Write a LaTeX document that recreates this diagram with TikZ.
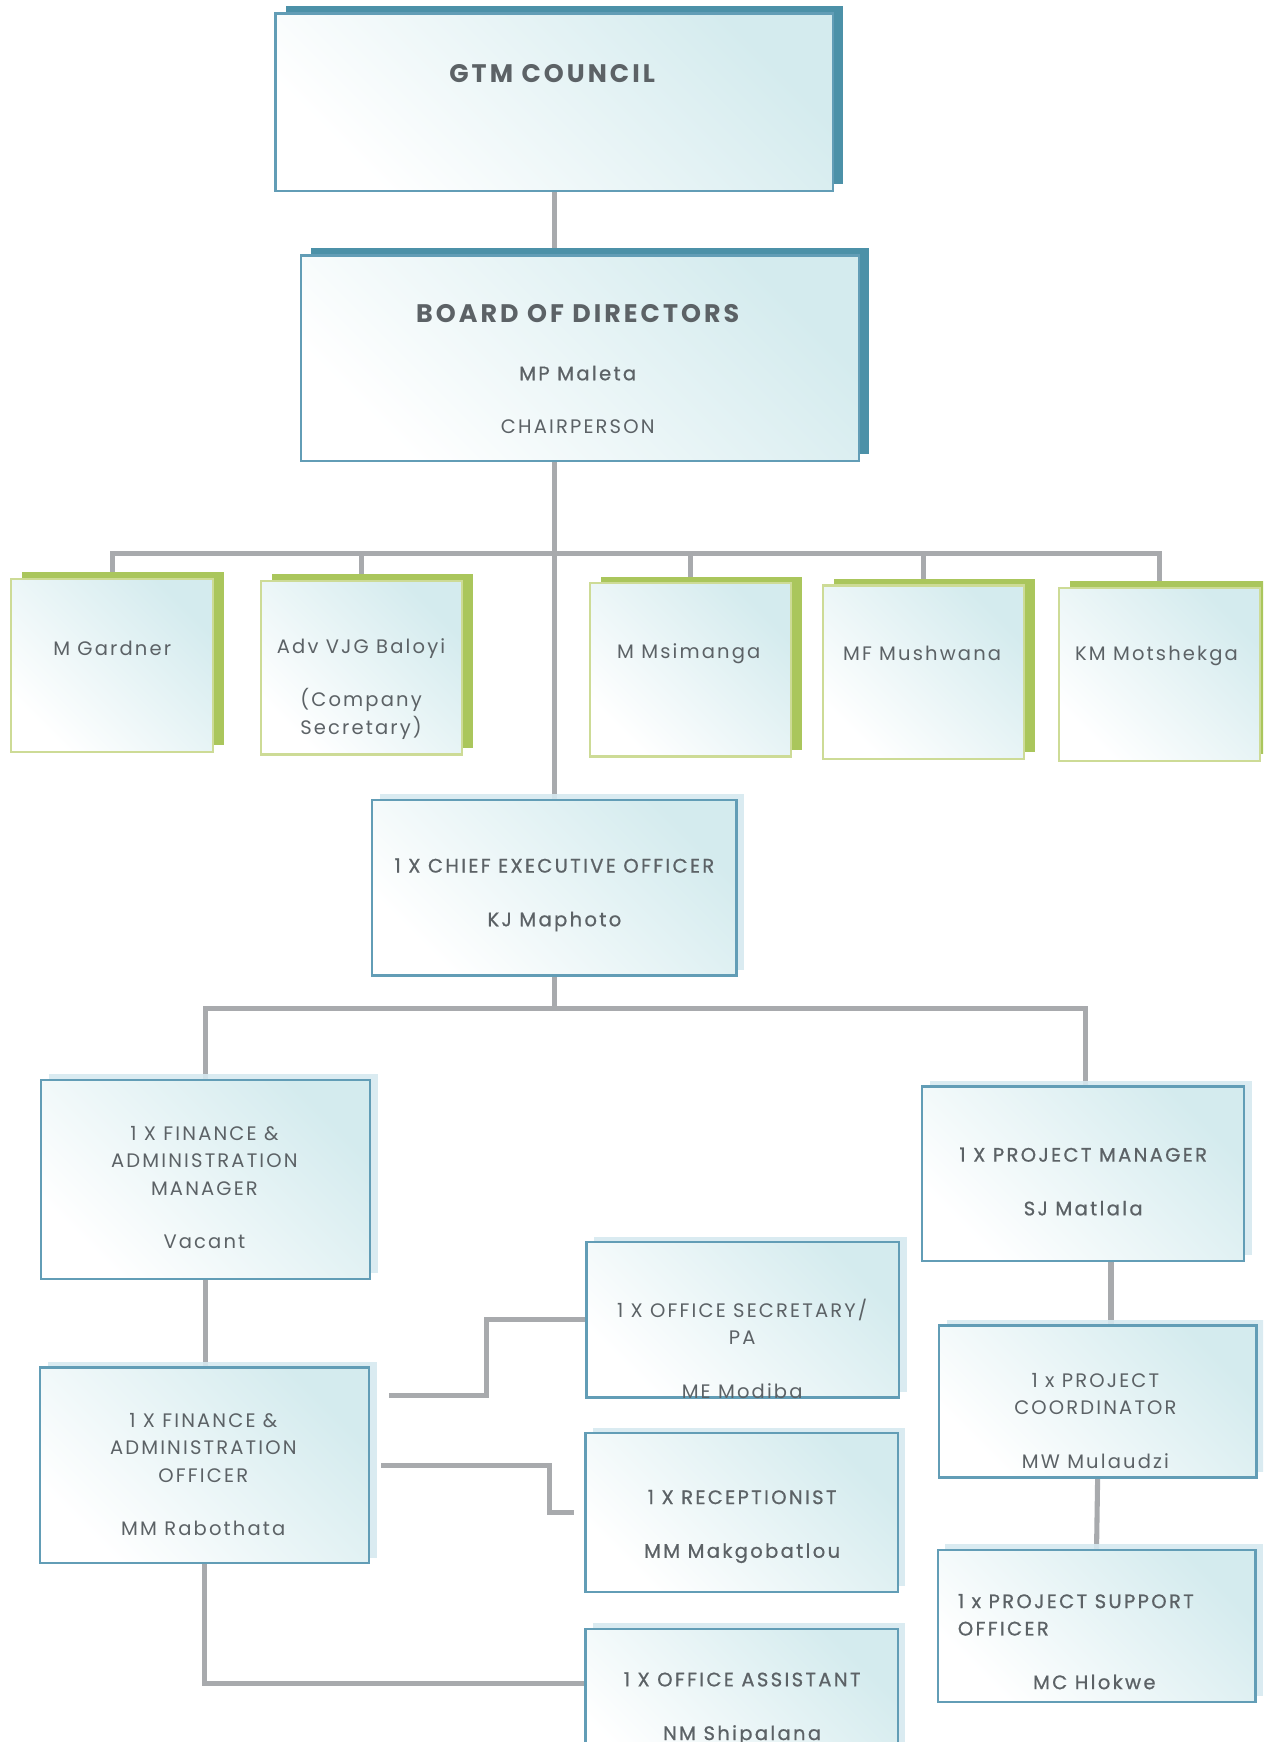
\documentclass[tikz,border=0pt]{standalone}
\usepackage{fontspec}
\setmainfont{Poppins}[LetterSpace=11.0]
\newfontfamily\semifont{Poppins}[LetterSpace=12.0,FakeBold=0.8]
\usetikzlibrary{shadows}
\usetikzlibrary{backgrounds}
\definecolor{steel}{RGB}{76,145,168}
\definecolor{boxblue}{RGB}{98,157,182}
\definecolor{tint}{RGB}{212,235,238}
\definecolor{glow}{RGB}{214,233,240}
\definecolor{leaf}{RGB}{170,198,92}
\definecolor{leafline}{RGB}{205,219,150}
\definecolor{linegray}{RGB}{168,170,173}
\definecolor{textgray}{RGB}{92,98,102}

\tikzset{
  boxsize/.style 2 args={minimum width=#1*0.02cm, minimum height=#2*0.02cm},
  plain/.style={inner sep=0pt, outer sep=0pt, top color=tint, bottom color=white, shading angle=-45},
  topbox/.style={plain, draw=boxblue, line width=1.2pt,
    drop shadow={shadow xshift=0.18cm, shadow yshift=0.13cm, fill=steel, opacity=1}},
  memberbox/.style={plain, draw=leafline, line width=1.2pt,
    drop shadow={shadow xshift=0.2cm, shadow yshift=0.12cm, fill=leaf, opacity=1}},
  staffbox/.style={plain, draw=boxblue, line width=1.2pt,
    drop shadow={shadow xshift=0.14cm, shadow yshift=0.1cm, fill=glow, opacity=0.9}},
  txt/.style={text=textgray, align=center, font=\fontsize{10}{14}\selectfont},
  title/.style={text=textgray, font=\fontsize{13}{16}\bfseries\addfontfeature{LetterSpace=12.0}},
  link/.style={draw=linegray, line width=2.6pt}
}

\begin{document}
\begin{tikzpicture}[x=0.02cm, y=-0.02cm]

\useasboundingbox (0,0) rectangle (1137,1568);
\clip (0,0) rectangle (1137,1568);

% council and board
\node[topbox, boxsize={502}{160}] (gtm) at (499,92) {};
\node[topbox, boxsize={502}{185}] (board) at (522,322.5) {};

\node[title] (gtmtxt) at (497,66) {GTM COUNCIL};
\node[title] (boardtxt) at (520,282) {BOARD OF DIRECTORS};
\node[txt] (boardname) at (520,360) {{\semifont MP Maleta}\\[13.5pt]CHAIRPERSON};

% board members
\node[memberbox, boxsize={182}{156}] (gardner) at (101,599) {};
\node[memberbox, boxsize={181}{156}] (baloyi) at (325.5,601) {};
\node[memberbox, boxsize={181}{156}] (msimanga) at (621.5,603) {};
\node[memberbox, boxsize={181}{156}] (mushwana) at (831.5,605) {};
\node[memberbox, boxsize={181}{156}] (motshekga) at (1043.5,607) {};

\node[txt] (gardnertxt) at (101,584) {M Gardner};
\node[txt] (baloyitxt) at (325,620) {Adv VJG Baloyi\\[13.5pt](Company\\Secretary)};
\node[txt] (msimangatxt) at (620,588) {M Msimanga};
\node[txt] (mushwanatxt) at (830,588) {MF Mushwana};
\node[txt] (motshekgatxt) at (1041,590) {KM Motshekga};

% management
\node[staffbox, boxsize={328}{158}] (ceo) at (499,799) {};
\node[staffbox, boxsize={296}{179}] (fam) at (185,1061.5) {};
\node[staffbox, boxsize={296}{176}] (fao) at (184,1319) {};
\node[staffbox, boxsize={281}{140}] (sec) at (668.5,1188) {};
\node[staffbox, boxsize={281}{143}] (rec) at (667.5,1361.5) {};
\node[staffbox, boxsize={281}{144}] (asst) at (667.5,1538) {};
\node[staffbox, boxsize={290}{157}] (pm) at (975,1056.5) {};
\node[staffbox, boxsize={286}{137}] (pc) at (988,1261.5) {};
\node[staffbox, boxsize={286}{137}] (pso) at (987,1463.5) {};

\node[txt, font=\fontsize{10}{14}\semifont] (ceotxt) at (499,805.5) {1 X CHIEF EXECUTIVE OFFICER\\[13.5pt]KJ Maphoto};
\node[txt] (famtxt) at (184,1069) {1 X FINANCE \&\\ADMINISTRATION\\MANAGER\\[13.5pt]Vacant};
\node[txt] (faotxt) at (183,1327.5) {1 X FINANCE \&\\ADMINISTRATION\\OFFICER\\[13.5pt]MM Rabothata};
\node[txt] (sectxt) at (668,1214) {1 X OFFICE SECRETARY/\\PA\\[13.5pt]ME Modiba};
\node[txt, font=\fontsize{10}{14}\semifont] (rectxt) at (668,1374) {1 X RECEPTIONIST\\[13.5pt]MM Makgobatlou};
\node[txt, font=\fontsize{10}{14}\semifont] (assttxt) at (668,1538) {1 X OFFICE ASSISTANT\\[13.5pt]NM Shipalana};
\node[txt, font=\fontsize{10}{14}\semifont] (pmtxt) at (975,1063.5) {1 X PROJECT MANAGER\\[13.5pt]SJ Matlala};
\node[txt] (pctxt) at (986,1279) {1 x PROJECT\\COORDINATOR\\[13.5pt]MW Mulaudzi};
\node[txt, align=left, font=\fontsize{10}{14}\semifont, anchor=west] (psotxt) at (856,1453.5) {1 x PROJECT SUPPORT\\OFFICER};
\node[txt, font=\fontsize{10}{14}\semifont] (psoname) at (985,1514) {MC Hlokwe};

\coordinate (bus) at (497,498);
\coordinate (ceobus) at (499,908);
\coordinate (secfrom) at (350,1256);

\begin{scope}[on background layer]
\draw[link] (gtm.south) -- (gtm.south |- board.north);
\draw[link] (board.south -| gtm.south) -- (ceo.north);
\draw[link] (gardner.north) |- (bus) -| (motshekga.north);
\draw[link] (baloyi.north) -- (baloyi.north |- bus);
\draw[link] (msimanga.north) -- (msimanga.north |- bus);
\draw[link] (mushwana.north) -- (mushwana.north |- bus);
\draw[link] (ceo.south) -- (ceobus);
\draw[link] (fam.north) |- (ceobus) -| ([xshift=0.04cm]pm.north);
\draw[link] (fam.south) -- (fam.south |- fao.north);
\draw[link] (secfrom) -| ([xshift=-1.8cm]sec.west) -- (sec.west);
\draw[link] ([xshift=0.22cm]fao.east) -| ([xshift=-0.64cm]rec.west) -- ([xshift=-0.2cm]rec.west);
\draw[link] (fao.south) |- ([yshift=0.46cm]asst.west);
\draw[link] ([xshift=0.5cm]pm.south) -- ([xshift=0.5cm]pm.south |- pc.north);
\draw[link] (pc.south) -- (pso.north);
\end{scope}

\end{tikzpicture}
\end{document}
